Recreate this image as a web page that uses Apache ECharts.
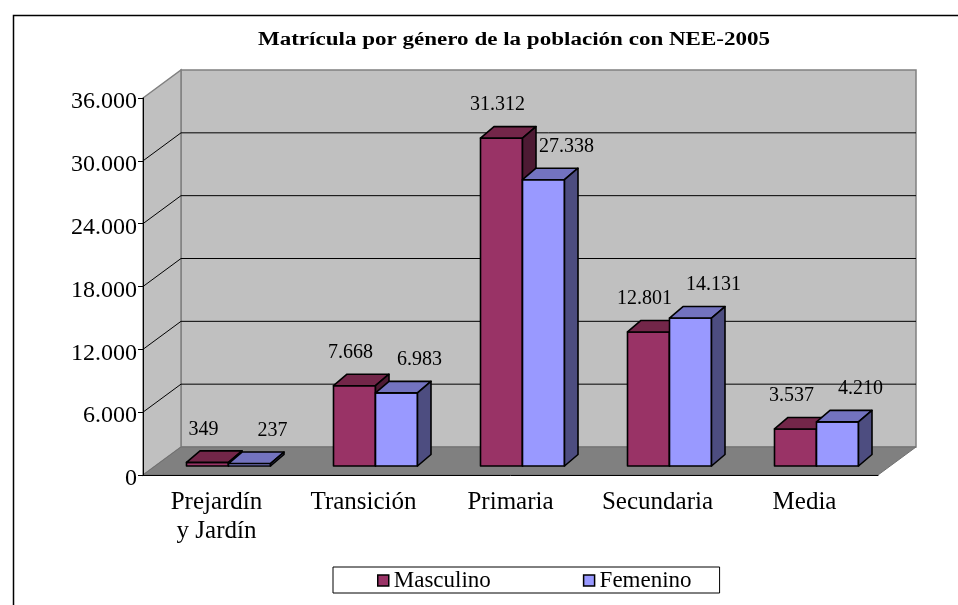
<!DOCTYPE html>
<html lang="es">
<head>
<meta charset="UTF-8">
<title>Matrícula por género de la población con NEE-2005</title>
<script src="https://cdn.jsdelivr.net/npm/echarts@6/dist/echarts.min.js"></script>
<style>
    html, body { margin: 0; padding: 0; background: #fff; }
    #main { width: 958px; height: 605px; }
</style>
</head>
<body>
<div id="main"></div>
<script>
    // datos del gráfico
    var niveles = ['Prejardín\ny Jardín', 'Transición', 'Primaria', 'Secundaria', 'Media'];
    var masculino = [349, 7668, 31312, 12801, 3537];
    var femenino = [237, 6983, 27338, 14131, 4210];
    var marcas = [0, 6000, 12000, 18000, 24000, 30000, 36000];

    var fuente = 'Liberation Serif';
    var prof = [38, -28];          // fondo de la caja
    var barIni = [12, -9];         // cara frontal de las barras
    var barProf = [13.5, -11.5];   // profundidad de las barras

    // 31312 -> 31.312
    function miles(v) {
        return String(v).replace(/\B(?=(\d{3})+(?!\d))/g, '.');
    }

    // paredes, piso y líneas de división
    function paredes(params, api) {
        var cs = params.coordSys;
        var x0 = cs.x, x1 = cs.x + cs.width;
        var y0 = api.coord([0, 0])[1];
        var yt = api.coord([0, marcas[marcas.length - 1]])[1];
        var dx = prof[0], dy = prof[1];
        var hijos = [];
        hijos.push({type: 'polygon', shape: {points: [[x0 + dx, yt + dy], [x1 + dx, yt + dy], [x1 + dx, y0 + dy], [x0 + dx, y0 + dy]]},
            style: {fill: '#c0c0c0', stroke: '#808080', lineWidth: 1.5}});
        hijos.push({type: 'polygon', shape: {points: [[x0, yt], [x0 + dx, yt + dy], [x0 + dx, y0 + dy], [x0, y0]]},
            style: {fill: '#c0c0c0', stroke: '#808080', lineWidth: 1.5}});
        hijos.push({type: 'polygon', shape: {points: [[x0, y0], [x0 + dx, y0 + dy], [x1 + dx, y0 + dy], [x1, y0]]},
            style: {fill: '#808080', stroke: '#707070', lineWidth: 1}});
        for (var i = 1; i < marcas.length - 1; i++) {
            var y = api.coord([0, marcas[i]])[1];
            hijos.push({type: 'polyline', shape: {points: [[x0, y], [x0 + dx, y + dy], [x1 + dx, y + dy]]},
                style: {stroke: '#000', lineWidth: 1, fill: null}});
        }
        return {type: 'group', children: hijos};
    }

    // barra 3D: lado 0 = izquierda (masculino), 1 = derecha (femenino)
    function barra(lado, frente, tapa, costado, despl) {
        return function (params, api) {
            var i = api.value(0), v = api.value(1);
            var base = api.coord([i, 0]);
            var cima = api.coord([i, v]);
            var w = api.size([1, 0])[0] / 3.5;
            var xl = base[0] - (lado === 0 ? w : 0) + barIni[0];
            var xr = xl + w;
            var yb = base[1] + barIni[1];
            var yt = cima[1] + barIni[1];
            var bx = barProf[0], by = barProf[1];
            function cara(puntos, color) {
                return {type: 'polygon', shape: {points: puntos},
                    style: {fill: color, stroke: '#000', lineWidth: 1.6, lineJoin: 'round'}};
            }
            return {type: 'group', children: [
                cara([[xl, yb], [xr, yb], [xr, yt], [xl, yt]], frente),
                cara([[xl, yt], [xr, yt], [xr + bx, yt + by], [xl + bx, yt + by]], tapa),
                cara([[xr, yb], [xr + bx, yb + by], [xr + bx, yt + by], [xr, yt]], costado),
                {type: 'text', z2: 10, style: {text: miles(v), x: (xl + xr) / 2 + despl, y: yt - 33,
                    textAlign: 'center', textVerticalAlign: 'middle', align: 'center', verticalAlign: 'middle',
                    font: '20px ' + fuente, fill: '#000'}}
            ]};
        };
    }

    var myChart = echarts.init(document.getElementById('main'));
    var option = {
        animation: false,
        backgroundColor: '#fff',
        grid: {left: 143, right: 80, top: 98, bottom: 130},
        graphic: [
            {type: 'rect', left: 11, top: 13, shape: {width: 1005, height: 640},
                style: {fill: 'none', stroke: '#000', lineWidth: 1.5}},
            {type: 'text', x: 514, y: 40, scaleX: 1.28, style: {text: 'Matrícula por género de la población con NEE-2005',
                x: 0, y: 0, textAlign: 'center', textVerticalAlign: 'middle', align: 'center', verticalAlign: 'middle',
                font: 'bold 18px ' + fuente, fill: '#000'}}
        ],
        legend: {
            left: 333, top: 567,
            itemWidth: 11, itemHeight: 11, itemGap: 92,
            padding: [2, 28, 1, 44],
            borderColor: '#000', borderWidth: 1,
            textStyle: {fontFamily: fuente, fontSize: 23, color: '#000'},
            data: [
                {name: 'Masculino', icon: 'rect', itemStyle: {color: '#993366', borderColor: '#000', borderWidth: 1.5}},
                {name: 'Femenino', icon: 'rect', itemStyle: {color: '#9999ff', borderColor: '#000', borderWidth: 1.5}}
            ]
        },
        xAxis: {
            type: 'category', data: niveles, z: 10,
            axisLine: {lineStyle: {color: '#000', width: 1}},
            axisTick: {length: 6, lineStyle: {color: '#000'}},
            axisLabel: {interval: 0, margin: 13, fontFamily: fuente, fontSize: 25, lineHeight: 29, color: '#000'}
        },
        yAxis: {
            type: 'value', min: 0, max: 36000, interval: 6000, z: 10,
            axisLine: {show: true, lineStyle: {color: '#000', width: 1}},
            axisTick: {show: true, length: 5, lineStyle: {color: '#000'}},
            axisLabel: {margin: 6, verticalAlign: 'top', lineHeight: 8, fontFamily: fuente, fontSize: 24,
                color: '#000', formatter: miles},
            splitLine: {show: false}
        },
        series: [
            {type: 'custom', name: 'caja', silent: true, z: 1, renderItem: paredes, data: [[0, 0]]},
            {type: 'custom', name: 'Masculino', z: 3, itemStyle: {color: '#993366'},
                renderItem: barra(0, '#993366', '#732649', '#4d1a33', -4),
                data: masculino.map(function (v, i) { return [i, v]; })},
            {type: 'custom', name: 'Femenino', z: 4, itemStyle: {color: '#9999ff'},
                renderItem: barra(1, '#9999ff', '#7373bf', '#4d4d80', 23),
                data: femenino.map(function (v, i) { return [i, v]; })}
        ]
    };
    myChart.setOption(option);
</script>
</body>
</html>
